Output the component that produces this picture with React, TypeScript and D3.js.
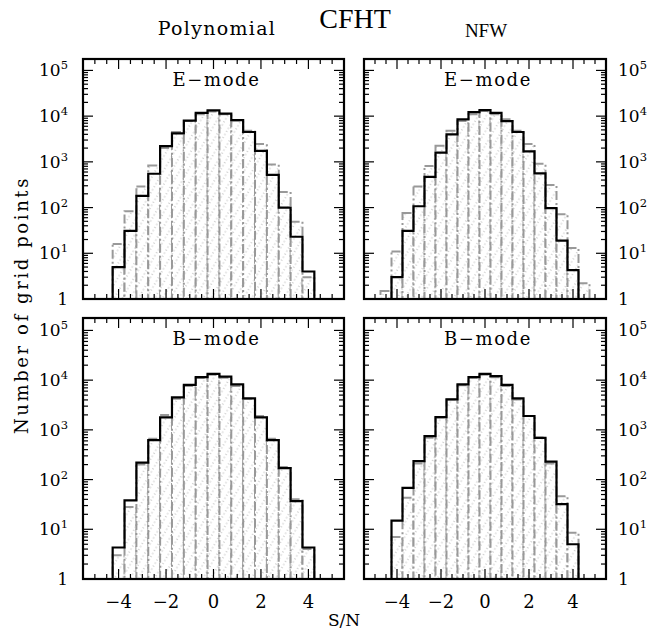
import React from "react";
import * as d3 from "d3";

// ---- data ----
const binCenters = [-4.5, -4, -3.5, -3, -2.5, -2, -1.5, -1, -0.5, 0, 0.5, 1, 1.5, 2, 2.5, 3, 3.5, 4, 4.5];
const binWidth = 0.5;

const ePolyBlack = [0, 5, 31, 180, 550, 2200, 4200, 8000, 11800, 13400, 11400, 8200, 4500, 1740, 520, 100, 23, 4, 0];
const ePolyGray = [1, 16, 83, 290, 830, 2000, 4500, 7800, 11000, 12600, 11000, 8000, 4800, 2450, 870, 220, 49, 3, 1];

const eNfwBlack = [0, 3, 31, 107, 470, 1600, 4000, 8500, 12200, 13500, 11800, 7800, 4500, 1700, 560, 97, 19, 4.3, 0];
const eNfwGray = [1.5, 11, 76, 290, 810, 2250, 4800, 7800, 11000, 13000, 11000, 8500, 4800, 2450, 910, 310, 71, 13, 2.2];

const bPolyBlack = [0, 4.3, 38, 220, 620, 1780, 4500, 8000, 11500, 13400, 11800, 8200, 4300, 1780, 620, 170, 37, 4.3, 0];
const bPolyGray = [1, 3, 28, 200, 660, 2000, 4200, 7600, 11000, 12900, 11200, 7600, 4200, 1900, 660, 180, 40, 4, 1];

const bNfwBlack = [0, 15, 68, 235, 750, 1800, 4100, 8200, 11500, 13400, 12000, 8000, 4300, 1900, 690, 230, 32, 5, 0];
const bNfwGray = [1, 7, 43, 210, 690, 1780, 4100, 7900, 11200, 12900, 11500, 7600, 4100, 1900, 700, 210, 46, 8.5, 1];

const xMajorTicks = [-4, -2, 0, 2, 4];
const xTickLabels = ["\u22124", "\u22122", "0", "2", "4"];
const yDecades = [0, 1, 2, 3, 4, 5];
const yDecadeLabels = ["1", "10", "10", "10", "10", "10"];
const yDecadeSup = ["", "1", "2", "3", "4", "5"];
const columnTitles = ["Polynomial", "NFW"];
const modeLabels = ["E\u2212mode", "B\u2212mode"];

// ---- layout ----
const W = 654;
const H = 629;
const colX: [number, number][] = [[83, 344], [364, 606]];
const rowY: [number, number][] = [[59, 299], [318, 579]];
const xDomain: [number, number] = [-5.5, 5.5];
const yDomain: [number, number] = [1, Math.pow(10, 5.25)];

const panels = [
  { row: 0, col: 0, black: ePolyBlack, gray: ePolyGray },
  { row: 0, col: 1, black: eNfwBlack, gray: eNfwGray },
  { row: 1, col: 0, black: bPolyBlack, gray: bPolyGray },
  { row: 1, col: 1, black: bNfwBlack, gray: bNfwGray },
];

const GRAY = "#999";
const serif = "'DejaVu Serif', serif";
const times = "'Liberation Serif', serif";

function Panel({ row, col, black, gray }: any) {
  const [x0, x1] = colX[col];
  const [y0, y1] = rowY[row];
  const x = d3.scaleLinear().domain(xDomain).range([x0, x1]);
  const y = d3.scaleLog().domain(yDomain).range([y1, y0]);

  const grayBars = binCenters.map((c, i) => {
    const v = gray[i];
    if (!v || v <= 1) return null;
    const xl = x(c - binWidth / 2);
    const xr = x(c + binWidth / 2);
    const yt = y(v);
    return (
      <rect
        key={"g" + i}
        x={xl}
        y={yt}
        width={xr - xl}
        height={y(1) - yt}
        fill="url(#hatch)"
        stroke={GRAY}
        strokeWidth={2}
        strokeDasharray="9,3,2,3"
      />
    );
  });

  let first = -1;
  let last = -1;
  black.forEach((v: number, i: number) => {
    if (v > 1) {
      if (first < 0) first = i;
      last = i;
    }
  });
  let dPath = `M${x(binCenters[first] - binWidth / 2)},${y(1)}`;
  for (let i = first; i <= last; i++) {
    const v = Math.max(black[i], 1);
    dPath += `V${y(v)}H${x(binCenters[i] + binWidth / 2)}`;
  }
  dPath += `V${y(1)}`;

  const xMinor = d3.range(-5.5, 5.51, 0.5).filter((t) => !xMajorTicks.includes(t));
  const yTicks: { v: number; major: boolean }[] = [];
  for (let n = 0; n <= 5; n++) {
    for (let k = 1; k <= 9; k++) {
      const v = k * Math.pow(10, n);
      if (v <= yDomain[1] && v >= 1) yTicks.push({ v, major: k === 1 });
    }
  }
  const tickEls: any[] = [];
  xMinor.forEach((t, i) => {
    tickEls.push(<line key={"xb" + i} x1={x(t)} x2={x(t)} y1={y1} y2={y1 - 5} />);
    tickEls.push(<line key={"xt" + i} x1={x(t)} x2={x(t)} y1={y0} y2={y0 + 5} />);
  });
  xMajorTicks.forEach((t, i) => {
    tickEls.push(<line key={"Xb" + i} x1={x(t)} x2={x(t)} y1={y1} y2={y1 - 10} />);
    tickEls.push(<line key={"Xt" + i} x1={x(t)} x2={x(t)} y1={y0} y2={y0 + 10} />);
  });
  yTicks.forEach((t, i) => {
    const L = t.major ? 10 : 5;
    tickEls.push(<line key={"yl" + i} x1={x0} x2={x0 + L} y1={y(t.v)} y2={y(t.v)} />);
    tickEls.push(<line key={"yr" + i} x1={x1} x2={x1 - L} y1={y(t.v)} y2={y(t.v)} />);
  });

  const cx = (x0 + x1) / 2 + 3;

  return (
    <g>
      {grayBars}
      <path d={dPath} fill="none" stroke="#000" strokeWidth={2.2} />
      <g stroke="#000" strokeWidth={1.2}>{tickEls}</g>
      <rect x={x0} y={y0} width={x1 - x0} height={y1 - y0} fill="none" stroke="#000" strokeWidth={2.2} />
      <text x={cx} y={y0 + 27} textAnchor="middle" fontFamily={serif} fontSize={18} letterSpacing={1.6}>
        {modeLabels[row]}
      </text>
      {yDecades.map((n, i) => {
        const yy = y(Math.pow(10, n)) + 6;
        const isLeft = col === 0;
        return (
          <text
            key={"yl" + i}
            x={isLeft ? x0 - 15 : x1 + 12}
            y={yy}
            textAnchor={isLeft ? "end" : "start"}
            fontFamily={serif}
            fontSize={17}
          >
            {yDecadeLabels[i]}
            {yDecadeSup[i] && (
              <tspan fontSize={11.5} dy={-7}>
                {yDecadeSup[i]}
              </tspan>
            )}
          </text>
        );
      })}
      {row === 1 &&
        xMajorTicks.map((t, i) => (
          <text key={"xl" + i} x={x(t)} y={y1 + 29} textAnchor="middle" fontFamily={serif} fontSize={18}>
            {xTickLabels[i]}
          </text>
        ))}
    </g>
  );
}

export default function App() {
  return (
    <svg width={W} height={H} style={{ position: "absolute", left: 0, top: 0, background: "#fff" }}>
      <defs>
        <pattern id="hatch" width={7} height={7} patternUnits="userSpaceOnUse" patternTransform="rotate(30)">
          <rect width={7} height={7} fill="#fff" />
          <line x1={3} y1={0} x2={3} y2={7} stroke="#a8a8a8" strokeWidth={1} strokeDasharray="1,2.5" />
        </pattern>
      </defs>
      <rect width={W} height={H} fill="#fff" />
      {panels.map((p, i) => (
        <Panel key={i} {...p} />
      ))}
      <text x={355} y={28} textAnchor="middle" fontFamily={times} fontSize={28}>
        CFHT
      </text>
      <text x={217} y={35} textAnchor="middle" fontFamily={serif} fontSize={19} letterSpacing={1.3}>
        {columnTitles[0]}
      </text>
      <text x={486} y={37} textAnchor="middle" fontFamily={times} fontSize={19}>
        {columnTitles[1]}
      </text>
      <text
        transform={`translate(28,305) rotate(-90)`}
        textAnchor="middle"
        fontFamily={serif}
        fontSize={18}
        letterSpacing={2.6}
      >
        Number of grid points
      </text>
      <text x={344} y={626} textAnchor="middle" fontFamily={serif} fontSize={17}>
        S/N
      </text>
    </svg>
  );
}
